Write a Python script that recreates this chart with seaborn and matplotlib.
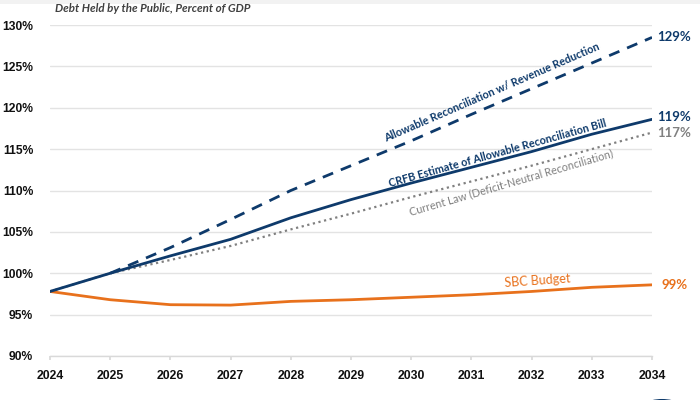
import matplotlib
matplotlib.use("Agg")
import matplotlib.pyplot as plt
import seaborn as sns
import numpy as np
import pandas as pd
from matplotlib.patches import Circle, Rectangle

years = [2024, 2025, 2026, 2027, 2028, 2029, 2030, 2031, 2032, 2033, 2034]
revenue_reduction = [np.nan, 100.0, 103.1, 106.5, 110.0, 113.0, 116.0, 119.2, 122.3, 125.4, 128.5]
crfb_estimate = [97.8, 100.0, 102.1, 104.1, 106.7, 108.9, 110.9, 112.8, 114.7, 116.8, 118.6]
current_law = [97.8, 100.0, 101.6, 103.3, 105.3, 107.2, 109.2, 111.1, 113.0, 115.0, 117.0]
sbc_budget = [97.8, 96.8, 96.2, 96.15, 96.6, 96.8, 97.1, 97.4, 97.8, 98.3, 98.6]
y_ticks = [90, 95, 100, 105, 110, 115, 120, 125, 130]

NAVY = "#0E3A6B"
GRAY = "#808080"
ORANGE = "#E8711C"

sns.set_theme(style="white")
plt.rcParams['font.family'] = ['Lato', 'DejaVu Sans']

fig = plt.figure(figsize=(7, 4), dpi=100)
ax = fig.add_axes([50/700, 1-356/400, (652-50)/700, (356-25)/400])

df = pd.DataFrame({"year": years, "rev": revenue_reduction, "crfb": crfb_estimate,
                   "cl": current_law, "sbc": sbc_budget})

sns.lineplot(data=df, x="year", y="cl", ax=ax, color=GRAY, lw=1.6, linestyle=(0, (1, 1.6)))
sns.lineplot(data=df, x="year", y="sbc", ax=ax, color=ORANGE, lw=2.0)
sns.lineplot(data=df.dropna(), x="year", y="rev", ax=ax, color=NAVY, lw=2.0, linestyle=(0, (4, 3)))
sns.lineplot(data=df, x="year", y="crfb", ax=ax, color=NAVY, lw=2.0)

ax.set_xlim(2024, 2034)
ax.set_ylim(90, 130)
ax.set_yticks(y_ticks)
ax.set_yticklabels([f"{v}%" for v in y_ticks], fontfamily="Liberation Sans",
                   fontweight="bold", fontsize=8.7, color="#111111")
ax.set_xticks(years)
ax.set_xticklabels([str(y) for y in years], fontfamily="Liberation Sans",
                   fontweight="bold", fontsize=8.8, color="#111111")
ax.set_xlabel("")
ax.set_ylabel("")
ax.grid(axis="y", color="#E3E3E3", lw=1)
ax.grid(axis="x", visible=False)
for s in ["top", "right", "left"]:
    ax.spines[s].set_visible(False)
ax.spines["bottom"].set_color("#D9D9D9")
ax.spines["bottom"].set_linewidth(1)
ax.tick_params(axis="x", length=3, color="#D9D9D9", pad=7, direction="out", bottom=True)
ax.tick_params(axis="y", length=0, pad=12)

# inline labels
ax.text(2031.34, 121.8, "Allowable Reconciliation w/ Revenue Reduction", rotation=23.4,
        rotation_mode="anchor", ha="center", va="center", color=NAVY, fontsize=7.8, fontweight="bold")
ax.text(2031.43, 114.5, "CRFB Estimate of Allowable Reconciliation Bill", rotation=15.6,
        rotation_mode="anchor", ha="center", va="center", color=NAVY, fontsize=7.8, fontweight="bold")
ax.text(2031.66, 111.0, "Current Law (Deficit-Neutral Reconciliation)", rotation=16.2,
        rotation_mode="anchor", ha="center", va="center", color=GRAY, fontsize=7.8)
ax.text(2032.1, 99.1, "SBC Budget", rotation=4,
        rotation_mode="anchor", ha="center", va="center", color=ORANGE, fontsize=9)

# end labels
ax.text(2034.08, revenue_reduction[-1], "129%", ha="left", va="center", color=NAVY, fontsize=9.5, fontweight="bold", clip_on=False)
ax.text(2034.08, crfb_estimate[-1] + 0.3, "119%", ha="left", va="center", color=NAVY, fontsize=9.5, fontweight="bold", clip_on=False)
ax.text(2034.08, current_law[-1] - 0.1, "117%", ha="left", va="center", color=GRAY, fontsize=9.5, fontweight="bold", clip_on=False)
ax.text(2034.15, sbc_budget[-1], "99%", ha="left", va="center", color=ORANGE, fontsize=9.5, fontweight="bold", clip_on=False)

fig.text(55/700, 1-9/400, "Debt Held by the Public, Percent of GDP", ha="left", va="center",
         fontsize=8.3, fontstyle="italic", fontweight="bold", color="#404040")

fig.patches.append(Rectangle((0, 1-4/400), 1, 4/400, transform=fig.transFigure,
                             facecolor="#F2F2F2", edgecolor="none"))
fig.patches.append(Circle((662/700, 1-415/400), 25/700, transform=fig.transFigure,
                          facecolor="white", edgecolor=NAVY, lw=2.5))

fig.savefig("out.png", dpi=100)
